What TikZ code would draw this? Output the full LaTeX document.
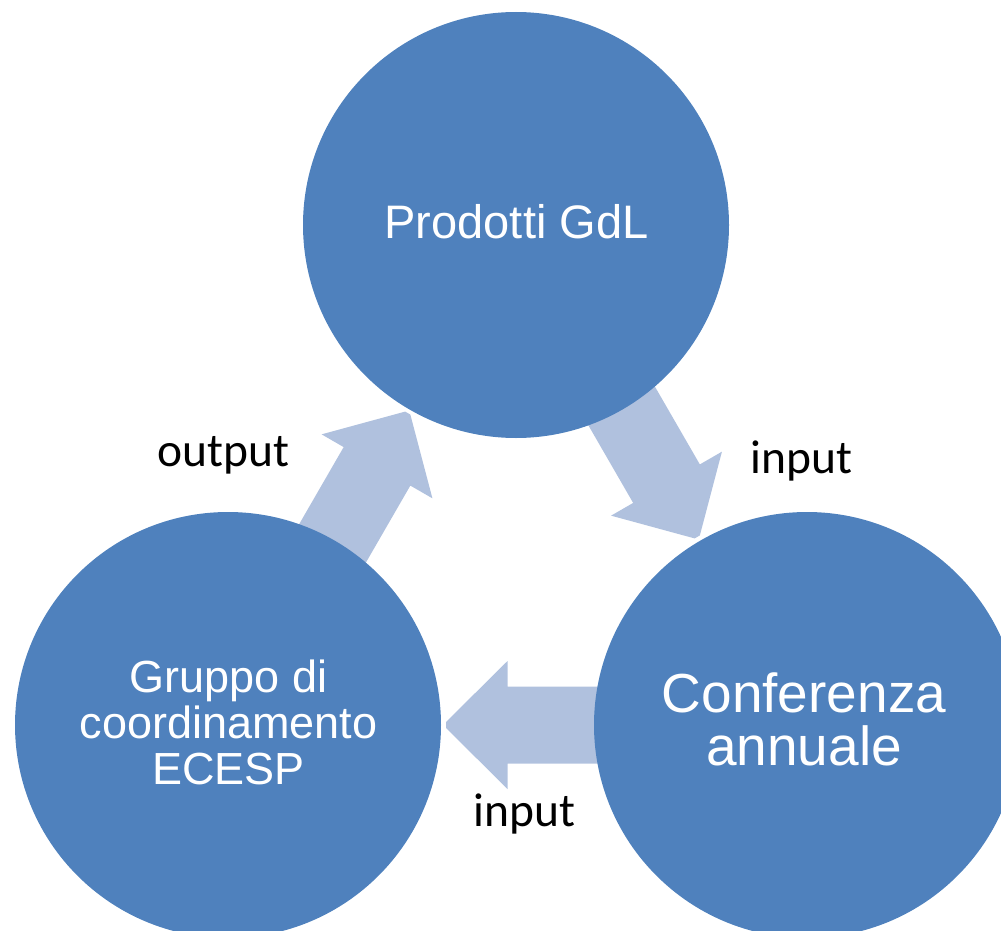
\documentclass[tikz,border=0pt]{standalone}
\usepackage{fontspec}
\setmainfont{Liberation Sans}
\newfontfamily\labelfont{Carlito}
\usetikzlibrary{calc,backgrounds}
\definecolor{circblue}{RGB}{79,129,189}
\definecolor{arrowblue}{RGB}{176,193,222}
\tikzset{
  circ/.style={circle, fill=circblue, draw=none, minimum size=426pt, inner sep=0pt},
  intext/.style={text=white, align=center},
  lbl/.style={text=black, font=\labelfont\fontsize{47.5}{56}\selectfont, anchor=base, inner sep=0pt},
  blockarr/.pic={\fill[arrowblue] (-100,-38.5) -- (10,-38.5) -- (10,-64) -- (71.5,-3) -- (71.5,3) -- (10,64) -- (10,38.5) -- (-100,38.5) -- cycle;}
}
\begin{document}
\begin{tikzpicture}[x=1pt,y=-1pt]
\useasboundingbox (0,0) rectangle (1001,931);
\clip (0,0) rectangle (1001,931);
\node[circ] (prod) at (516,225) {};
\node[circ] (grup) at (228,725) {};
\node[circ] (conf) at (807,725) {};
\node[intext, anchor=base, inner sep=0pt, font=\fontsize{47}{54}\selectfont] (prodtxt) at (516.5,238.3) {Prodotti GdL};
\node[intext, inner sep=0pt, font=\fontsize{55}{52.7}\selectfont] (conftxt) at (804,719.7) {Conferenza\\annuale};
\node[intext, inner sep=0pt, font=\fontsize{45}{46}\selectfont] (gruptxt) at (228.5,722) {Gruppo di\\coordinamento\\ECESP};
\node[lbl] (lout) at (223.3,466.7) {output};
\node[lbl] (lin1) at (801.7,473.3) {input};
\node[lbl] (lin2) at (524.2,826.7) {input};
\begin{pgfonlayer}{background}
\pic[rotate=60] (a1) at ($(grup)!0.5!(prod)$) {blockarr};
\pic[rotate=-60] (a2) at ($(prod)!0.5!(conf)$) {blockarr};
\pic[rotate=180] (a3) at ($(conf)!0.5!(grup)$) {blockarr};
\end{pgfonlayer}
\end{tikzpicture}
\end{document}
